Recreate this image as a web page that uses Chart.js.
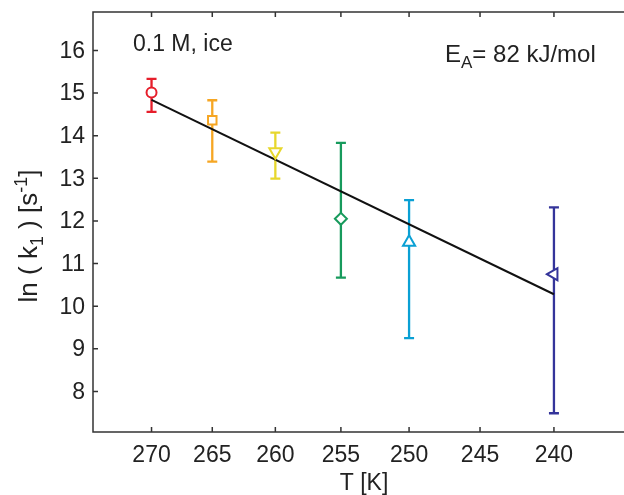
<!DOCTYPE html>
<html><head><meta charset="utf-8">
<script src="https://cdn.jsdelivr.net/npm/chart.js@4.4.1/dist/chart.umd.min.js"></script>
<style>
html,body{margin:0;padding:0;background:#fff;overflow:hidden}
#wrap{position:relative;width:640px;height:495px}
</style></head><body>
<div id="wrap"><canvas id="c"></canvas></div>
<script>
// data (x axis is linear in 1/T, labelled in T)
const temps=[270,265,260,255,250,240];
const lnK=[15.01,14.36,13.62,12.05,11.50,10.75];
const errHi=[15.33,14.83,14.07,13.83,12.49,12.32];
const errLo=[14.56,13.39,12.99,10.67,9.25,7.49];
const fitT=[270,240];
const fitLnK=[14.84,10.28];
const xTicks=[270,265,260,255,250,245,240];
const yTicks=[8,9,10,11,12,13,14,15,16];
const tRange=[275,235];
const yRange=[7.05,16.9];

const colors=['#e61e2b','#f6a623','#e7d72c','#179a5c','#0aa0d4','#34349a'];
const markers=['circle','rect','triangle','rectRot','triangle','triangle'];
const rotations=[0,0,180,0,0,-90];
const sizes=[5,6,7,6,7,7];
const FONT="'Liberation Sans', Arial, Helvetica, sans-serif";
const inv=t=>1000/t;

const pointSets=temps.map((t,i)=>({
  data:[{x:inv(t),y:lnK[i]}],
  showLine:false,
  pointStyle:markers[i],
  rotation:rotations[i],
  radius:sizes[i],
  borderColor:colors[i],
  backgroundColor:'#fff',
  borderWidth:2,
  order:1
}));
const fitSet={
  data:fitT.map((t,i)=>({x:inv(t),y:fitLnK[i]})),
  showLine:true, borderColor:'#111', borderWidth:2, pointRadius:0, order:2
};

const frame={
  id:'frame',
  beforeDatasetsDraw(chart){
    const ctx=chart.ctx, xs=chart.scales.x, ys=chart.scales.y;
    ctx.save();
    ctx.lineWidth=2.3;
    temps.forEach((t,i)=>{
      const px=xs.getPixelForValue(inv(t));
      const top=ys.getPixelForValue(errHi[i]), bot=ys.getPixelForValue(errLo[i]);
      ctx.strokeStyle=colors[i];
      ctx.beginPath();
      ctx.moveTo(px,top);ctx.lineTo(px,bot);
      ctx.moveTo(px-5,top);ctx.lineTo(px+5,top);
      ctx.moveTo(px-5,bot);ctx.lineTo(px+5,bot);
      ctx.stroke();
    });
    ctx.restore();
  },
  afterDraw(chart){
    const ctx=chart.ctx, a=chart.chartArea, xs=chart.scales.x, ys=chart.scales.y;
    ctx.save();
    ctx.strokeStyle='#333';ctx.lineWidth=1.5;
    ctx.beginPath();
    ctx.moveTo(a.right+5,a.top);ctx.lineTo(a.left,a.top);ctx.lineTo(a.left,a.bottom);ctx.lineTo(a.right+5,a.bottom);
    xTicks.forEach(t=>{
      const px=xs.getPixelForValue(inv(t));
      ctx.moveTo(px,a.bottom);ctx.lineTo(px,a.bottom-5);
      ctx.moveTo(px,a.top);ctx.lineTo(px,a.top+5);
    });
    yTicks.forEach(v=>{
      const py=ys.getPixelForValue(v);
      ctx.moveTo(a.left,py);ctx.lineTo(a.left+5,py);
    });
    ctx.stroke();

    ctx.fillStyle='#222';
    ctx.font='23px '+FONT;
    // tick labels
    ctx.textAlign='center';ctx.textBaseline='alphabetic';
    xTicks.forEach(t=>ctx.fillText(String(t),xs.getPixelForValue(inv(t)),462));
    ctx.fillText('T [K]',364,490);
    ctx.textAlign='right';ctx.textBaseline='middle';
    yTicks.forEach(v=>ctx.fillText(String(v),85,ys.getPixelForValue(v)+1));

    ctx.textAlign='left';ctx.textBaseline='alphabetic';
    ctx.fillText('0.1 M, ice',133,51);
    // E_A annotation
    ctx.font='24px '+FONT;
    ctx.fillText('E',445,62);
    let w=ctx.measureText('E').width;
    ctx.font='17px '+FONT;
    ctx.fillText('A',445+w,68);
    let w2=ctx.measureText('A').width;
    ctx.font='24px '+FONT;
    ctx.fillText('= 82 kJ/mol',445+w+w2,62);

    // y axis title with sub/superscript
    const runs=[['ln ( k',26,0],['1',18,6],[' ) [s',26,0],['-1',18,-10],[']',26,0]];
    let total=0;
    runs.forEach(r=>{ctx.font=r[1]+'px '+FONT;r.push(ctx.measureText(r[0]).width);total+=r[3];});
    ctx.translate(37,236);ctx.rotate(-Math.PI/2);
    let xx=-total/2;
    runs.forEach(r=>{ctx.font=r[1]+'px '+FONT;ctx.fillText(r[0],xx,r[2]);xx+=r[3];});
    ctx.restore();
  }
};

new Chart(document.getElementById('c'),{
  type:'scatter',
  data:{datasets:[fitSet,...pointSets]},
  options:{
    responsive:true, maintainAspectRatio:false, animation:false,
    layout:{padding:{left:0,top:12,right:2,bottom:0}},
    plugins:{legend:{display:false},tooltip:{enabled:false}},
    scales:{
      x:{
        type:'linear', min:inv(tRange[0]), max:inv(tRange[1]),
        afterBuildTicks:s=>{s.ticks=xTicks.map(t=>({value:inv(t)}));},
        afterFit:s=>{s.height=63;},
        grid:{display:false}, border:{display:false},
        ticks:{display:false}
      },
      y:{
        type:'linear', min:yRange[0], max:yRange[1],
        afterBuildTicks:s=>{s.ticks=yTicks.map(v=>({value:v}));},
        afterFit:s=>{s.width=93;},
        grid:{display:false}, border:{display:false},
        ticks:{display:false}
      }
    }
  },
  plugins:[frame]
});
</script>
</body></html>
